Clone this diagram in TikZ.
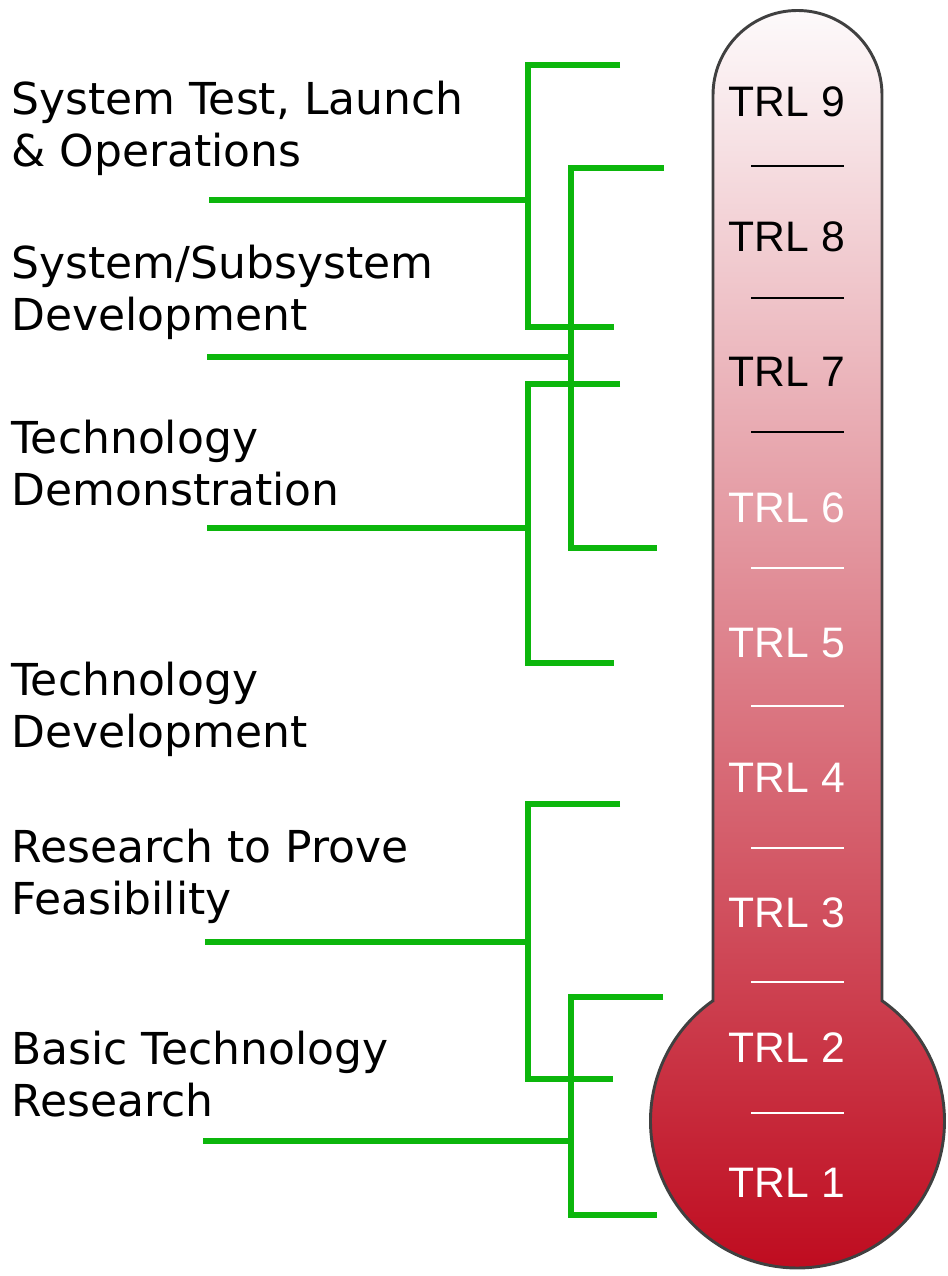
\documentclass[tikz,border=0pt]{standalone}
\usepackage{fontspec}
\setmainfont{DejaVu Sans}
\newfontfamily\trlfont{Liberation Sans}

\definecolor{brgreen}{RGB}{12,182,12}
\definecolor{tubetop}{RGB}{253,250,251}
\definecolor{tubebot}{RGB}{190,8,28}
\definecolor{tubeline}{RGB}{64,64,64}

\tikzset{every picture/.style={line width=0.75pt}}
\tikzset{
	bracket/.style={draw=brgreen, line width=3.8pt},
	stagelbl/.style={anchor=base west, inner sep=0pt, align=left, font=\fontsize{33}{39}\selectfont},
	trllbl/.style={anchor=base, inner sep=0pt, font=\trlfont\fontsize{32}{38}\selectfont},
	sepline/.style={line width=2.2pt}
}

\begin{document}
\begin{tikzpicture}[x=0.75pt,y=0.75pt,yscale=-1,xscale=1]
	\useasboundingbox (0,0) rectangle (948,1276);

	%Shape: Thermometer
	\shadedraw [top color=tubetop, bottom color=tubebot, draw=tubeline, line width=2.2pt] (713,1000.7) -- (713,95) arc [start angle=180, end angle=360, radius=84.5] -- (882,1000.7) arc [start angle=-54.9, end angle=234.9, radius=147] -- cycle ;

	%Straight Lines: scale marks
	\foreach \y in {166,298,432}
		\draw [sepline, black] (751,\y) -- (844,\y) ;
	\foreach \y in {568,706,848,982,1113}
		\draw [sepline, white] (751,\y) -- (844,\y) ;

	% Text Node: levels
	\foreach \k in {7,8,9}
		\node [trllbl, text=black] (trl\k) at (787,{117+(9-\k)*135}) {TRL \k};
	\foreach \k in {1,...,6}
		\node [trllbl, text=white] (trl\k) at (787,{117+(9-\k)*135}) {TRL \k};

	% Text Node: stages (base = last line)
	\node [stagelbl] (ops) at (11,167) {System Test, Launch\\\& Operations};
	\node [stagelbl] (sysdev) at (11,331) {System/Subsystem\\Development};
	\node [stagelbl] (techdemo) at (11,505) {Technology\\Demonstration};
	\node [stagelbl] (techdev) at (11,747) {Technology\\Development};
	\node [stagelbl] (feas) at (11,914) {Research to Prove\\Feasibility};
	\node [stagelbl] (basic) at (11,1116) {Basic Technology\\Research};

	%Straight Lines: bracket for ops
	\coordinate (opsT) at (620,65);
	\coordinate (opsB) at (614,327);
	\coordinate (opsV) at (528,200);
	\coordinate (opsS) at (209,200);
	\draw [bracket] (opsT) -- (opsV |- opsT) -- (opsV |- opsB) -- (opsB) ;
	\draw [bracket] (opsS) -- (opsV) ;
	%Straight Lines: bracket for sysdev
	\coordinate (sysT) at (664,168);
	\coordinate (sysB) at (657,548);
	\coordinate (sysV) at (571,357);
	\coordinate (sysS) at (207,357);
	\draw [bracket] (sysT) -- (sysV |- sysT) -- (sysV |- sysB) -- (sysB) ;
	\draw [bracket] (sysS) -- (sysV) ;
	%Straight Lines: bracket for techdemo
	\coordinate (demoT) at (620,384);
	\coordinate (demoB) at (614,663);
	\coordinate (demoV) at (528,528);
	\coordinate (demoS) at (207,528);
	\draw [bracket] (demoT) -- (demoV |- demoT) -- (demoV |- demoB) -- (demoB) ;
	\draw [bracket] (demoS) -- (demoV) ;
	%Straight Lines: bracket for feas
	\coordinate (feasT) at (620,804);
	\coordinate (feasB) at (613,1079);
	\coordinate (feasV) at (528,942);
	\coordinate (feasS) at (205,942);
	\draw [bracket] (feasT) -- (feasV |- feasT) -- (feasV |- feasB) -- (feasB) ;
	\draw [bracket] (feasS) -- (feasV) ;
	%Straight Lines: bracket for basic
	\coordinate (basT) at (663,997);
	\coordinate (basB) at (657,1215);
	\coordinate (basV) at (571,1141);
	\coordinate (basS) at (203,1141);
	\draw [bracket] (basT) -- (basV |- basT) -- (basV |- basB) -- (basB) ;
	\draw [bracket] (basS) -- (basV) ;
\end{tikzpicture}
\end{document}
